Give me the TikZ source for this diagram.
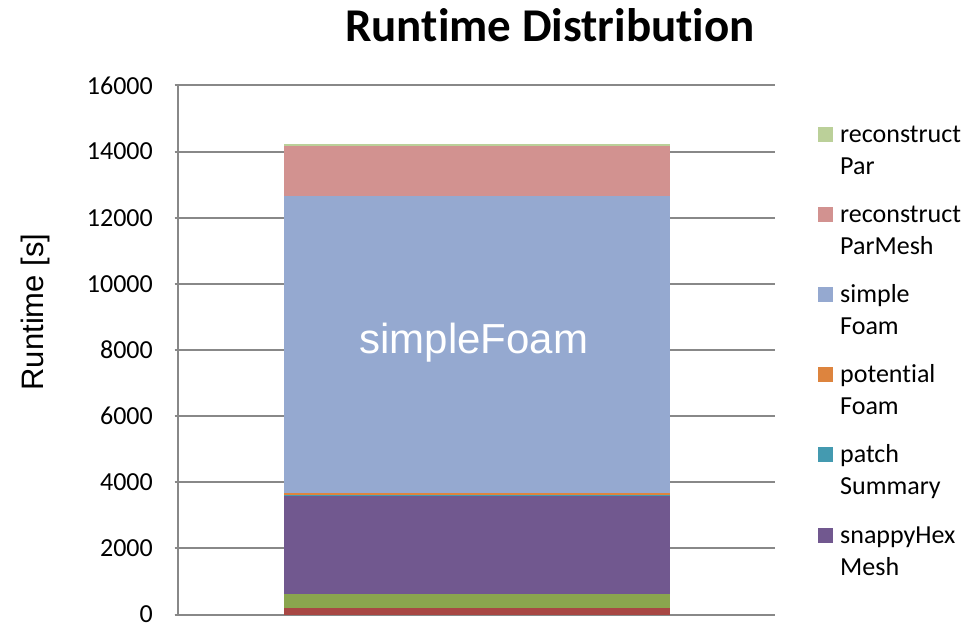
\documentclass[tikz,border=0pt]{standalone}
\usepackage{fontspec}
\setmainfont{Carlito}[Ligatures=NoCommon]
\newfontfamily\arialfont{Liberation Sans}
\definecolor{cRed}{HTML}{A84744}
\definecolor{cGreen}{HTML}{8AA54E}
\definecolor{cPurple}{HTML}{71588F}
\definecolor{cTeal}{HTML}{449AB0}
\definecolor{cOrange}{HTML}{DD843E}
\definecolor{cBlue}{HTML}{95A9D0}
\definecolor{cPink}{HTML}{D29290}
\definecolor{cLight}{HTML}{BBD099}
\definecolor{cGrid}{HTML}{888888}
\tikzset{
  gridline/.style={draw=cGrid, line width=2pt},
  ticklabel/.style={anchor=east, inner sep=0pt, font=\fontsize{26}{31}\selectfont},
  legtext/.style={anchor=base west, inner sep=0pt, align=left, font=\fontsize{26}{32}\selectfont},
  legkey/.style={minimum size=15pt, inner sep=0pt, draw=none},
}
\begin{document}
\begin{tikzpicture}[x=1pt, y=-1pt]
\useasboundingbox (0,0) rectangle (978,622);
\fill[white] (0,0) rectangle (978,622);
% gridlines and ticks
\foreach \v [count=\i from 0] in {0,2000,4000,6000,8000,10000,12000,14000,16000} {
  \pgfmathsetmacro{\yy}{614.5-\v*0.033062}
  \draw[gridline] (174.5,\yy) -- (775.3,\yy);
  \node[ticklabel] (tick\i) at (153,\yy) {\v};
}
\draw[gridline] (178.3,85.5) -- (178.3,615.5);
% stacked bar
\fill[cRed]    (284,614.5) rectangle (670,608);
\fill[cGreen]  (284,608)   rectangle (670,594);
\fill[cPurple] (284,594)   rectangle (670,495.3);
\fill[cTeal]   (284,495.3) rectangle (670,495.1);
\fill[cOrange] (284,495.1) rectangle (670,493.3);
\fill[cBlue]   (284,493.3) rectangle (670,195.7);
\fill[cPink]   (284,195.7) rectangle (670,146);
\fill[cLight]  (284,146)   rectangle (670,144);
\draw[gridline] (174.5,614.5) -- (284,614.5) (670,614.5) -- (775.3,614.5);
% labels
\node[anchor=base, inner sep=0pt, font=\fontsize{47}{56}\selectfont\bfseries] (title) at (550,41) {Runtime Distribution};
\node[rotate=90, inner sep=0pt, font=\arialfont\fontsize{31}{36}\selectfont] (ylabel) at (35,312) {Runtime [s]};
\node[inner sep=0pt, text=white, font=\arialfont\fontsize{42}{48}\selectfont] (barlabel) at (474,343) {simpleFoam};
% legend
\foreach \c/\a/\b [count=\i from 0] in {cLight/reconstruct/Par, cPink/reconstruct/ParMesh, cBlue/simple/Foam, cOrange/potential/Foam, cTeal/patch/Summary, cPurple/snappyHex/Mesh} {
  \pgfmathsetmacro{\ly}{134+\i*80.2}
  \node[legkey, fill=\c] (key\i) at (825.5,\ly) {};
  \node[legtext] (leg\i) at (840,\ly+40) {\a\\\b};
}
\end{tikzpicture}
\end{document}
